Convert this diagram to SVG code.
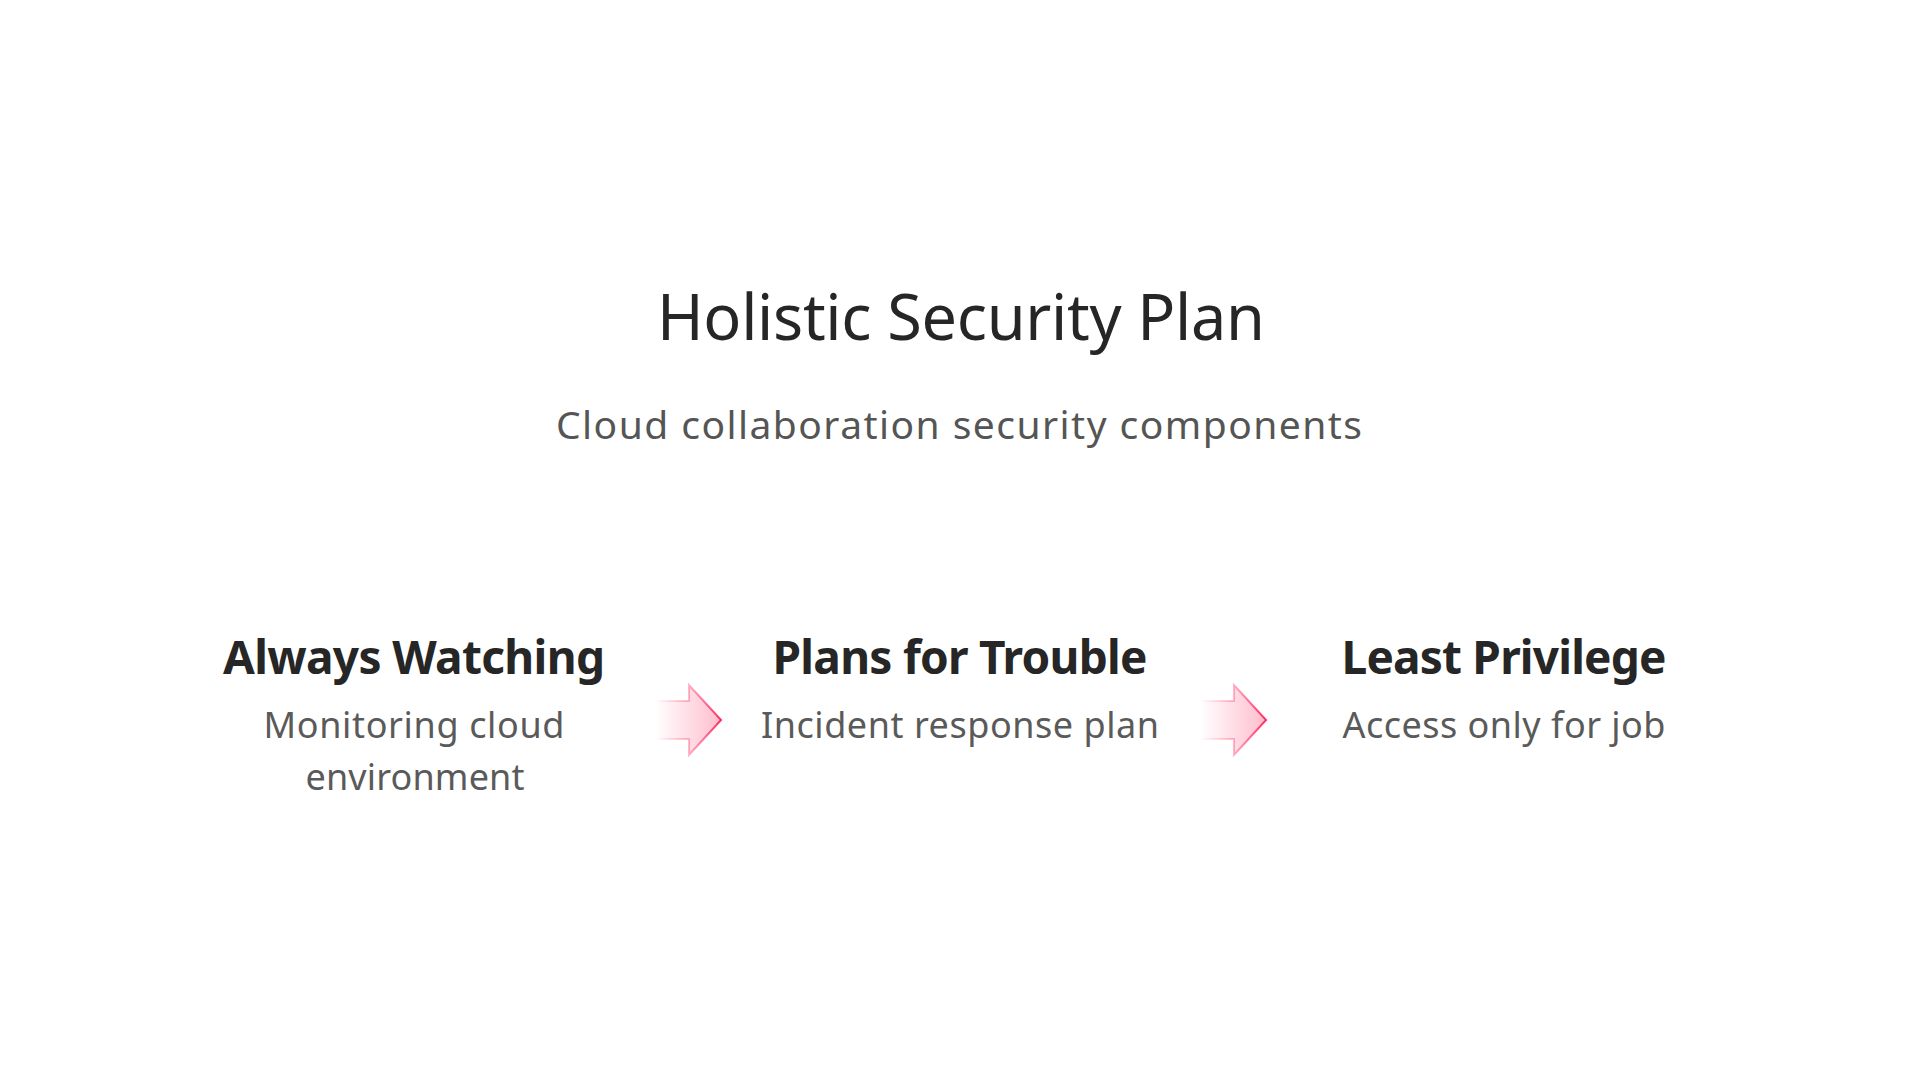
<svg xmlns="http://www.w3.org/2000/svg" width="1920" height="1080" viewBox="0 0 1920 1080">
  <defs>
    <linearGradient id="arrowFill" x1="0" y1="0" x2="1" y2="0">
      <stop offset="0" stop-color="#ff5a82" stop-opacity="0"/>
      <stop offset="1" stop-color="#ff5a82" stop-opacity="0.4"/>
    </linearGradient>
    <linearGradient id="arrowStroke" x1="0" y1="0" x2="1" y2="0">
      <stop offset="0" stop-color="#ff3d6e" stop-opacity="0"/>
      <stop offset="0.5" stop-color="#ff3d6e" stop-opacity="0.35"/>
      <stop offset="1" stop-color="#ff2d62" stop-opacity="1"/>
    </linearGradient>
    <path id="arrowShape" d="M -66 -19 L -32 -19 L -32 -35 L 0 0 L -32 35 L -32 19 L -66 19 Z"/>
  </defs>
  <style>
    .title { font-family: "Noto Sans", "Open Sans", sans-serif; font-size: 63px; fill: #262626; text-anchor: middle; }
    .subtitle { font-family: "Noto Sans", "Open Sans", sans-serif; font-size: 39px; fill: #555555; text-anchor: middle; }
    .head { font-family: "Noto Sans", "Open Sans", sans-serif; font-size: 46px; font-weight: 700; fill: #262626; text-anchor: middle; }
    .desc { font-family: "Noto Sans", "Open Sans", sans-serif; font-size: 36px; fill: #5a5a5a; text-anchor: middle; }
    .arrow { fill: url(#arrowFill); stroke: url(#arrowStroke); stroke-width: 2; stroke-linejoin: miter; }
  </style>
  <rect x="0" y="0" width="1920" height="1080" fill="#ffffff"/>
  <g id="header">
    <text class="title" x="961" y="340" textLength="608">Holistic Security Plan</text>
    <text class="subtitle" x="959" y="439" textLength="806">Cloud collaboration security components</text>
  </g>
  <g id="node-always-watching">
    <text class="head" x="414" y="674" textLength="382">Always Watching</text>
    <text class="desc" x="414" y="738" textLength="301">Monitoring cloud</text>
    <text class="desc" x="415" y="790" textLength="219">environment</text>
  </g>
  <g id="node-plans-for-trouble">
    <text class="head" x="960" y="674" textLength="375">Plans for Trouble</text>
    <text class="desc" x="960" y="738" textLength="398">Incident response plan</text>
  </g>
  <g id="node-least-privilege">
    <text class="head" x="1504" y="674" textLength="325">Least Privilege</text>
    <text class="desc" x="1504" y="738" textLength="323">Access only for job</text>
  </g>
  <g id="connectors">
    <use href="#arrowShape" class="arrow" transform="translate(721 720)"/>
    <use href="#arrowShape" class="arrow" transform="translate(1266 720)"/>
  </g>
</svg>
